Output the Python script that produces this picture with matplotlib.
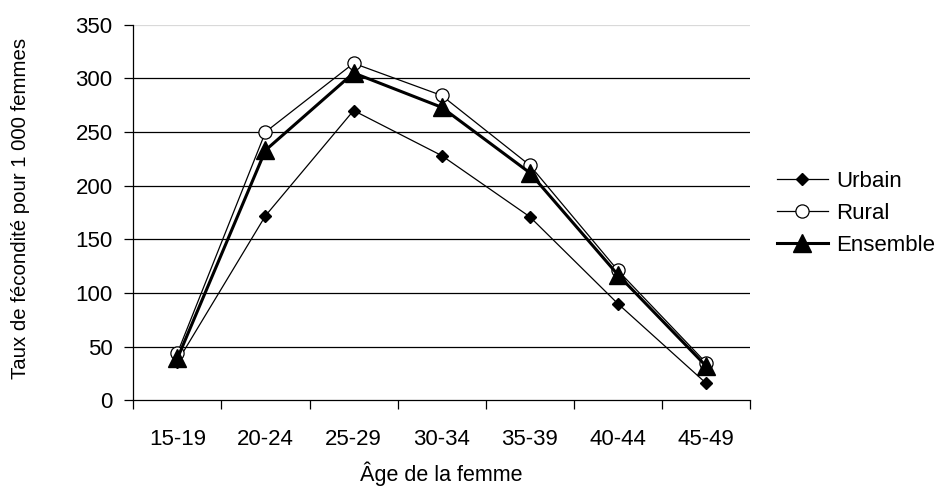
import numpy as np
import matplotlib
matplotlib.use('Agg')
import matplotlib.pyplot as plt
from matplotlib.ticker import FixedLocator, NullFormatter

plt.rcParams['font.family'] = ['Liberation Sans', 'DejaVu Sans']

# Données
age_groups = ['15-19', '20-24', '25-29', '30-34', '35-39', '40-44', '45-49']
urbain = [36, 172, 270, 228, 171, 90, 16]
rural = [44, 250, 314, 284, 219, 121, 35]
ensemble = [39, 233, 305, 273, 212, 117, 32]
y_ticks = [0, 50, 100, 150, 200, 250, 300, 350]

fig = plt.figure(figsize=(9.45, 4.93), dpi=100)
ax = fig.add_axes([0.1411, 0.188, 0.6526, 0.762])

x = np.arange(len(age_groups))

# grille horizontale
for yv in y_ticks[1:-1]:
    ax.axhline(yv, color='black', lw=0.9, zorder=1)
ax.axhline(y_ticks[-1], color='#d9d9d9', lw=0.9, zorder=1)

ax.plot(x, urbain, color='black', lw=0.9, marker='D', ms=6,
        mfc='black', mec='black', label='Urbain', zorder=3)
ax.plot(x, rural, color='black', lw=0.9, marker='o', ms=9.5,
        mfc='white', mec='black', mew=0.9, label='Rural', zorder=4)
ax.plot(x, ensemble, color='black', lw=2.2, marker='^', ms=13,
        mfc='black', mec='black', label='Ensemble', zorder=5)

ax.set_xlim(-0.5, len(age_groups) - 0.5)
ax.set_ylim(0, 350)
ax.set_yticks(y_ticks)

# ticks entre les catégories, étiquettes au centre
ax.xaxis.set_major_locator(FixedLocator(np.arange(len(age_groups) + 1) - 0.5))
ax.xaxis.set_major_formatter(NullFormatter())
ax.xaxis.set_minor_locator(FixedLocator(x))
ax.set_xticklabels(age_groups, minor=True)
ax.tick_params(axis='x', which='major', length=6.5, width=0.9, direction='out')
ax.tick_params(axis='x', which='minor', length=0, pad=21, labelsize=16)
ax.tick_params(axis='y', length=6.5, width=0.9, direction='out', pad=8.5, labelsize=16)

for s in ['top', 'right']:
    ax.spines[s].set_visible(False)
for s in ['left', 'bottom']:
    ax.spines[s].set_linewidth(0.9)

ax.set_xlabel('Âge de la femme', fontsize=15.5)
ax.xaxis.set_label_coords(0.5, -0.162)
ax.set_ylabel('Taux de fécondité pour 1 000 femmes', fontsize=14.7)
ax.yaxis.set_label_coords(-0.167, 0.51)

ax.legend(loc='center left', bbox_to_anchor=(1.043, 0.497), frameon=False,
          fontsize=16, handlelength=2.3, handletextpad=0.4, labelspacing=0.5,
          borderpad=0, borderaxespad=0)

fig.savefig('out.png', dpi=100)
